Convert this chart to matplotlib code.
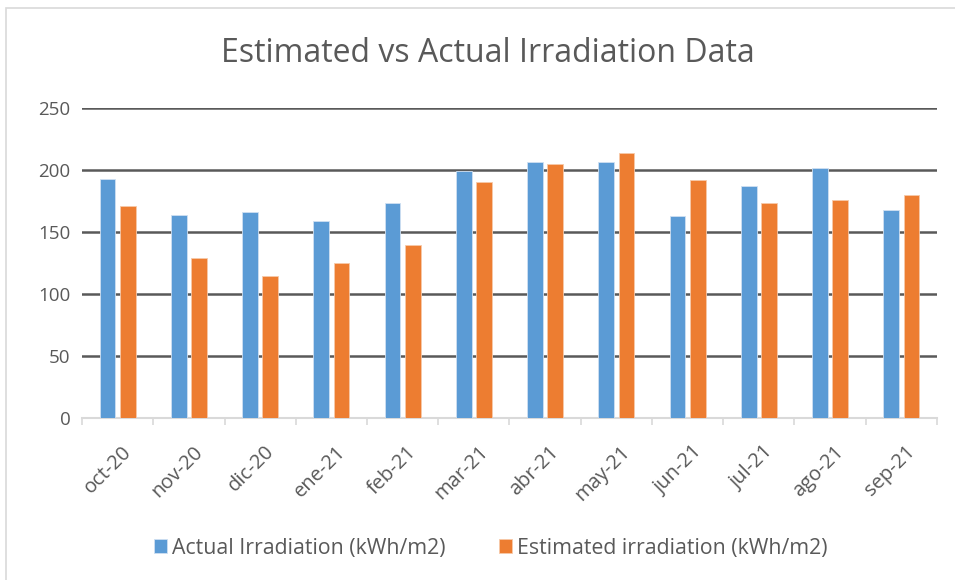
import numpy as np
import matplotlib
matplotlib.use('Agg')
import matplotlib.pyplot as plt
from matplotlib.patches import Rectangle
from matplotlib.transforms import ScaledTranslation

months = ['oct-20', 'nov-20', 'dic-20', 'ene-21', 'feb-21', 'mar-21',
          'abr-21', 'may-21', 'jun-21', 'jul-21', 'ago-21', 'sep-21']
actual = [192.5, 164, 166.5, 159, 173, 199, 206.7, 206, 162.7, 187, 201.3, 167.6]
estimated = [170.8, 128.7, 114.7, 124.7, 139.7, 190.6, 204.8, 214, 191.7, 173.7, 175.6, 180]
yticks = [0, 50, 100, 150, 200, 250]

plt.rcParams['font.family'] = ['Open Sans', 'DejaVu Sans']
text_color = '#595959'

fig = plt.figure(figsize=(9.55, 5.8), dpi=100)
ax = fig.add_axes([0.086, 0.279, 0.895, 0.535])

# chart border (light gray, only top/left visible in reference)
fig.patches.append(Rectangle((6 / 955, -0.1), 1.2, 1 - 8 / 580 + 0.1,
                             transform=fig.transFigure, fill=False,
                             edgecolor='#d9d9d9', linewidth=1.2))

x = np.arange(len(months))
w = 0.22
off = 0.142
ax.bar(x - off, actual, w, color='#5B9BD5', edgecolor='#cfe0f2', linewidth=0.6,
       label='Actual Irradiation (kWh/m2)', zorder=3)
ax.bar(x + off, estimated, w, color='#ED7D31', edgecolor='#f7c9a9', linewidth=0.6,
       label='Estimated irradiation (kWh/m2)', zorder=3)

ax.set_xlim(-0.5, len(months) - 0.5)
ax.set_ylim(0, 250)
ax.set_yticks(yticks)
ax.set_yticklabels([str(v) for v in yticks], fontsize=13.5, color=text_color)
ax.tick_params(axis='y', length=0, pad=8.5)

for v in yticks[1:]:
    ax.axhline(v, color='#595959', linewidth=1.8, zorder=1)

# x axis with boundary ticks
ax.set_xticks(x)
ax.set_xticklabels(months, rotation=45, ha='right', rotation_mode='anchor',
                   fontsize=14.5, color=text_color)
ax.tick_params(axis='x', length=0, pad=17)
shift = ScaledTranslation(4 / 100, 0, fig.dpi_scale_trans)
for lab in ax.get_xticklabels():
    lab.set_transform(lab.get_transform() + shift)
ax.set_xticks(np.arange(-0.5, len(months)), minor=True)
ax.tick_params(axis='x', which='minor', length=5, width=1.2, color='#d9d9d9')

for s in ['top', 'right', 'left']:
    ax.spines[s].set_visible(False)
ax.spines['bottom'].set_color('#d9d9d9')
ax.spines['bottom'].set_linewidth(1.5)

fig.text(0.5105, 0.907, 'Estimated vs Actual Irradiation Data', ha='center', va='center',
         fontsize=23, color=text_color)

leg = fig.legend(loc='center', bbox_to_anchor=(0.514, 0.055), ncol=2, frameon=False,
                 fontsize=15.3, handlelength=0.62, handleheight=0.62, handletextpad=0.25,
                 columnspacing=2.5)
for t in leg.get_texts():
    t.set_color(text_color)

fig.savefig('out.png', dpi=100)
